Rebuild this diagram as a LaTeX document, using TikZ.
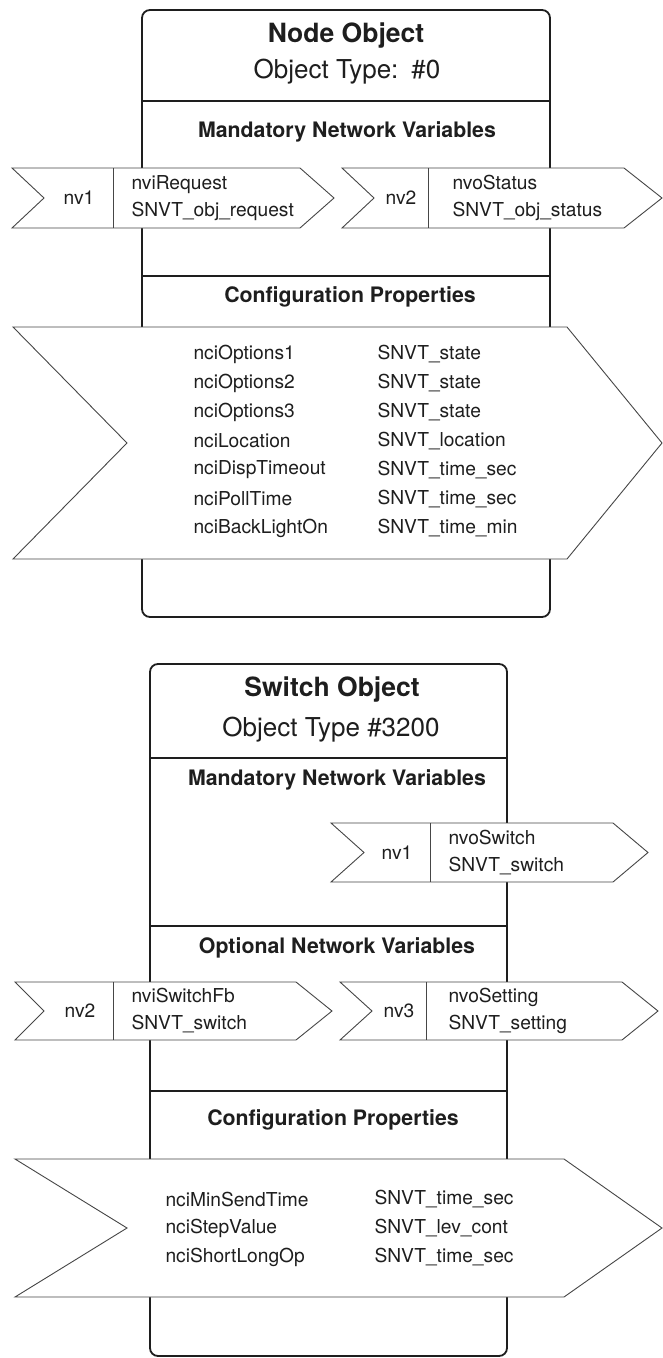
\documentclass[tikz,border=0pt]{standalone}
\usepackage{fontspec}
\setmainfont{TeX Gyre Heros}
\usetikzlibrary{positioning}
\definecolor{ink}{RGB}{30,30,30}
\definecolor{edge}{RGB}{70,70,70}

% chevron tag: left x, notch x, end x, tip x, top y, bottom y
\newcommand\nvtag[6]{%
  \draw[tag] (#1,#5) -- (#3,#5) -- (#4,{(#5+#6)/2}) -- (#3,#6) -- (#1,#6)
    -- (#2,{(#5+#6)/2}) -- cycle;}

\begin{document}
\begin{tikzpicture}[x=1pt,y=-1pt,
  frame/.style={draw=ink,line width=1.8pt,rounded corners=8pt,fill=white},
  bar/.style={draw=ink,line width=2.2pt},
  tag/.style={draw=edge,line width=0.9pt,fill=white},
  sep/.style={draw=edge,line width=0.9pt},
  objname/.style={font=\fontsize{26.5}{30}\selectfont\bfseries,text=ink},
  objtype/.style={font=\fontsize{26}{30}\selectfont,text=ink},
  head/.style={font=\fontsize{21.3}{24}\selectfont\bfseries,text=ink},
  nvtxt/.style={font=\fontsize{19.2}{27}\selectfont,text=ink,align=left},
  cptxt/.style={font=\fontsize{19.2}{22}\selectfont,text=ink,anchor=west}]
\useasboundingbox (0,0) rectangle (663,1358);

% ---- Node Object ----
\draw[frame] (142,10) rectangle (550,617);
\draw[bar] (142,101) -- (550,101);
\draw[bar] (142,276) -- (550,276);
\node[objname] (nodename) at (346,36) {Node Object};
\node[objtype] (nodetype) at (347,72) {Object Type:\hspace{0.5em}\#0};
\node[head] (nodemnv) at (347,132) {Mandatory Network Variables};
\node[head] (nodecp) at (350,297) {Configuration Properties};

\nvtag{12}{44}{300}{334}{168}{228}
\draw[sep] (113,168) -- (113,228);
\node[nvtxt] (nnv1) at (79,198) {nv1};
\node[nvtxt,anchor=west] (nnvreq) at (128,198) {nviRequest\\SNVT\_obj\_request};

\nvtag{342}{374}{624}{662}{168}{228}
\draw[sep] (428,168) -- (428,228);
\node[nvtxt] (nnv2) at (401,198) {nv2};
\node[nvtxt,anchor=west] (nnvstat) at (449,198) {nvoStatus\\SNVT\_obj\_status};

\nvtag{13}{127}{567}{662}{327}{559}
\foreach \a/\b [count=\i from 0] in {nciOptions1/SNVT\_state,
    nciOptions2/SNVT\_state, nciOptions3/SNVT\_state,
    nciLocation/SNVT\_location, nciDispTimeout/SNVT\_time\_sec,
    nciPollTime/SNVT\_time\_sec, nciBackLightOn/SNVT\_time\_min}{
  \node[cptxt] (ncp\i) at (190,354+29*\i) {\a};
  \node[cptxt] (nct\i) at (374,354+29*\i) {\b};
}

% ---- Switch Object ----
\draw[frame] (150,664) rectangle (507,1356);
\draw[bar] (150,758) -- (507,758);
\draw[bar] (150,926) -- (507,926);
\draw[bar] (150,1091) -- (507,1091);
\node[objname] (swname) at (332,690) {Switch Object};
\node[objtype] (swtype) at (331,730) {Object Type \#3200};
\node[head] (swmnv) at (337,780) {Mandatory Network Variables};
\node[head] (swonv) at (337,948) {Optional Network Variables};
\node[head] (swcp) at (333,1120) {Configuration Properties};

\nvtag{331}{364}{613}{648}{823}{882}
\draw[sep] (430,823) -- (430,882);
\node[nvtxt] (snv1) at (397,853) {nv1};
\node[nvtxt,anchor=west] (snvsw) at (445,853) {nvoSwitch\\SNVT\_switch};

\nvtag{15}{44}{296}{332}{982}{1040}
\draw[sep] (113,982) -- (113,1040);
\node[nvtxt] (snv2) at (80,1011) {nv2};
\node[nvtxt,anchor=west] (snvfb) at (128,1011) {nviSwitchFb\\SNVT\_switch};

\nvtag{340}{372}{622}{658}{982}{1040}
\draw[sep] (426,982) -- (426,1040);
\node[nvtxt] (snv3) at (399,1011) {nv3};
\node[nvtxt,anchor=west] (snvset) at (445,1011) {nvoSetting\\SNVT\_setting};

\nvtag{15}{127}{564}{662}{1159}{1297}
\foreach \a/\b [count=\i from 0] in {nciMinSendTime/SNVT\_time\_sec,
    nciStepValue/SNVT\_lev\_cont, nciShortLongOp/SNVT\_time\_sec}{
  \node[cptxt] (scp\i) at (162,1199+29*\i) {\a};
  \node[cptxt] (sct\i) at (371,1199+29*\i) {\b};
}
\end{tikzpicture}
\end{document}
